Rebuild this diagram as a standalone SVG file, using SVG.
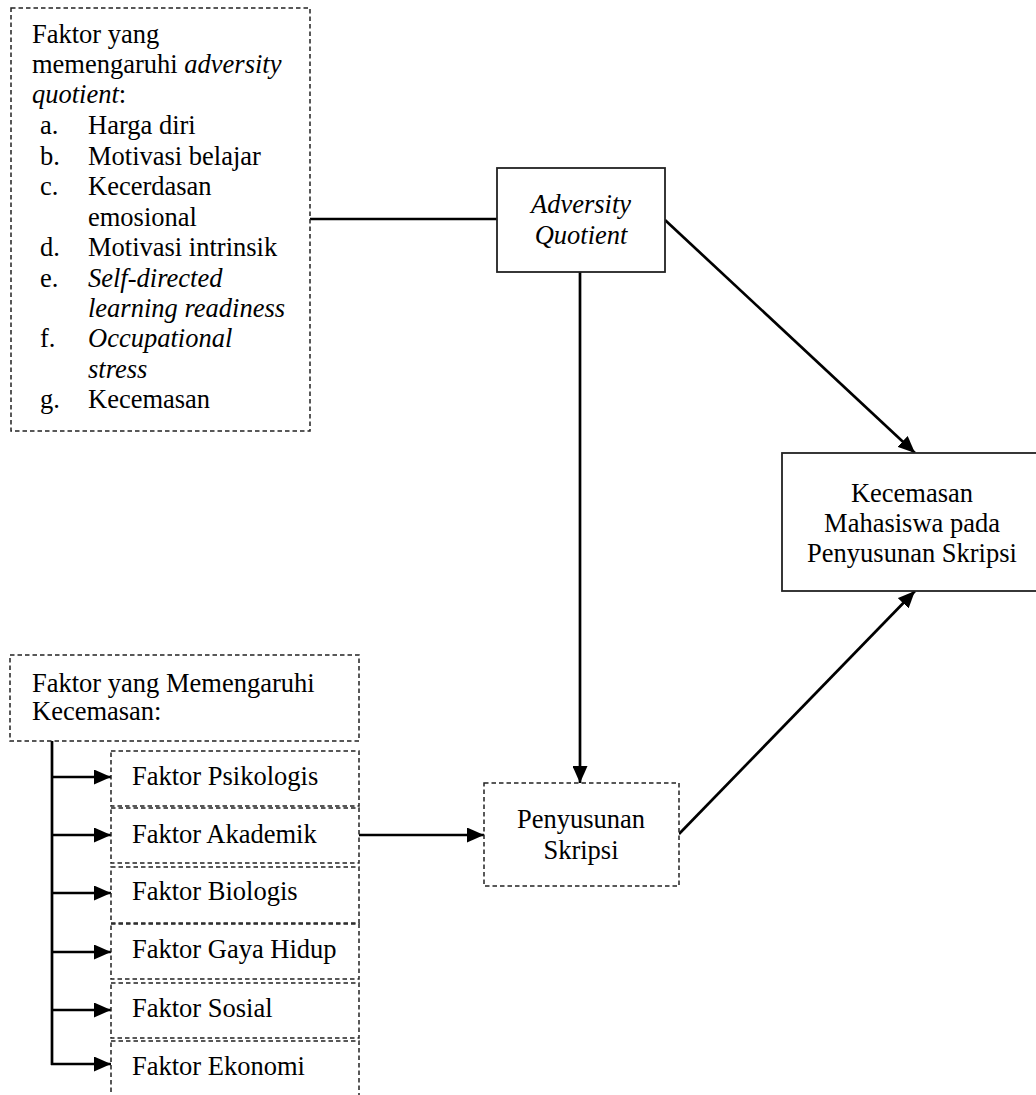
<svg xmlns="http://www.w3.org/2000/svg" width="1036" height="1095" viewBox="0 0 1036 1095">
<defs>
<marker id="ah" markerUnits="userSpaceOnUse" markerWidth="17" markerHeight="15" refX="17" refY="7.5" orient="auto">
<path d="M0,0 L17,7.5 L0,15 z" fill="#000"/>
</marker>
<style>
text{font-family:"Liberation Serif","Times New Roman",serif;font-size:26.5px;fill:#000}
.it{font-style:italic}
.dash{fill:#fff;stroke:#222;stroke-width:1.5;stroke-dasharray:4.5 3}
.solid{fill:#fff;stroke:#222;stroke-width:1.8}
.c{text-anchor:middle}
.conn line,.conn path{stroke:#000;stroke-width:2.7;fill:none}
</style>
</defs>
<rect width="1036" height="1095" fill="#fff"/>
<g class="conn">
<line x1="310" y1="219" x2="497" y2="219"/>
<line x1="580" y1="272" x2="580" y2="783" marker-end="url(#ah)"/>
<line x1="665" y1="220" x2="915" y2="453" marker-end="url(#ah)"/>
<line x1="679" y1="834" x2="915" y2="591" marker-end="url(#ah)"/>
<line x1="359" y1="835" x2="484" y2="835" marker-end="url(#ah)"/>
<path d="M52,741 V1065"/>
<line x1="51" y1="777" x2="111" y2="777" marker-end="url(#ah)"/>
<line x1="51" y1="835" x2="111" y2="835" marker-end="url(#ah)"/>
<line x1="51" y1="893" x2="111" y2="893" marker-end="url(#ah)"/>
<line x1="51" y1="952" x2="111" y2="952" marker-end="url(#ah)"/>
<line x1="51" y1="1010" x2="111" y2="1010" marker-end="url(#ah)"/>
<line x1="51" y1="1064" x2="111" y2="1064" marker-end="url(#ah)"/>
</g>
<g id="faktor-aq">
<rect class="dash" x="11" y="8" width="299" height="423"/>
<text x="32" y="43">Faktor yang</text>
<text x="32" y="73">memengaruhi <tspan class="it">adversity</tspan></text>
<text x="32" y="103"><tspan class="it">quotient</tspan>:</text>
<text x="40" y="134">a.</text><text x="88" y="134">Harga diri</text>
<text x="40" y="165">b.</text><text x="88" y="165">Motivasi belajar</text>
<text x="40" y="195">c.</text><text x="88" y="195">Kecerdasan</text>
<text x="88" y="226">emosional</text>
<text x="40" y="256">d.</text><text x="88" y="256">Motivasi intrinsik</text>
<text x="40" y="287">e.</text><text x="88" y="287" class="it">Self-directed</text>
<text x="88" y="317" class="it">learning readiness</text>
<text x="40" y="347">f.</text><text x="88" y="347" class="it">Occupational</text>
<text x="88" y="378" class="it">stress</text>
<text x="40" y="408">g.</text><text x="88" y="408">Kecemasan</text>
</g>
<g id="aq">
<rect class="solid" x="497" y="168" width="168" height="104"/>
<text class="c it" x="581" y="213">Adversity</text>
<text class="c it" x="581" y="244">Quotient</text>
</g>
<g id="kecemasan-mahasiswa">
<rect class="solid" x="782" y="453" width="260" height="138"/>
<text class="c" x="912" y="502">Kecemasan</text>
<text class="c" x="912" y="532">Mahasiswa pada</text>
<text class="c" x="912" y="562">Penyusunan Skripsi</text>
</g>
<g id="penyusunan">
<rect class="dash" x="484" y="783" width="195" height="103"/>
<text class="c" x="581" y="828">Penyusunan</text>
<text class="c" x="581" y="859">Skripsi</text>
</g>
<g id="faktor-kecemasan">
<rect class="dash" x="10" y="655" width="349" height="86"/>
<text x="32" y="692">Faktor yang Memengaruhi</text>
<text x="32" y="720">Kecemasan:</text>
</g>
<g id="psikologis"><rect class="dash" x="111" y="751" width="248" height="55"/><text x="132" y="785">Faktor Psikologis</text></g>
<g id="akademik"><rect class="dash" x="111" y="808" width="248" height="55"/><text x="132" y="843">Faktor Akademik</text></g>
<g id="biologis"><rect class="dash" x="111" y="867" width="248" height="56"/><text x="132" y="900">Faktor Biologis</text></g>
<g id="gaya-hidup"><rect class="dash" x="111" y="924" width="248" height="55"/><text x="132" y="958">Faktor Gaya Hidup</text></g>
<g id="sosial"><rect class="dash" x="111" y="983" width="248" height="55"/><text x="132" y="1017">Faktor Sosial</text></g>
<g id="ekonomi"><rect class="dash" x="111" y="1041" width="248" height="70"/><text x="132" y="1075">Faktor Ekonomi</text></g>
</svg>
